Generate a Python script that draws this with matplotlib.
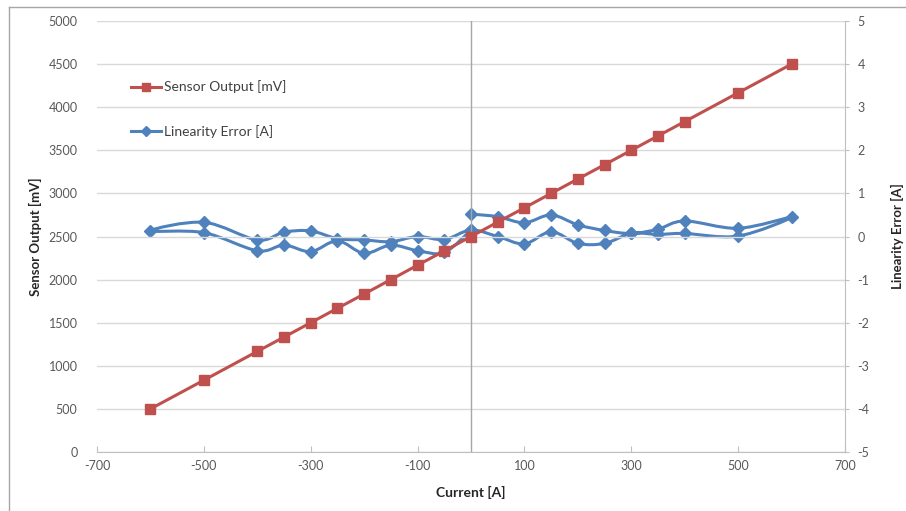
import matplotlib
matplotlib.use("Agg")
import matplotlib.pyplot as plt
from matplotlib.path import Path
from matplotlib.patches import PathPatch
from matplotlib.lines import Line2D
import numpy as np

# Sensor output versus primary current
current_out = [-600, -500, -400, -350, -300, -250, -200, -150, -100, -50, 0,
               50, 100, 150, 200, 250, 300, 350, 400, 500, 600]
sensor_mv = [500, 833, 1167, 1333, 1500, 1667, 1833, 2000, 2167, 2333, 2500,
             2667, 2833, 3000, 3167, 3333, 3500, 3667, 3833, 4167, 4500]

# Linearity error along the sweep 0 -> +600 -> -600 -> 0
current_sweep = [0, 50, 100, 150, 200, 250, 300, 350, 400, 500, 600,
                 500, 400, 350, 300, 250, 200, 150, 100, 50, 0,
                 -50, -100, -150, -200, -250, -300, -350, -400, -500, -600,
                 -500, -400, -350, -300, -250, -200, -150, -100, -50, 0]
error_a = [0.52, 0.46, 0.32, 0.50, 0.27, 0.14, 0.07, 0.17, 0.36, 0.19, 0.45,
           0.01, 0.07, 0.05, 0.07, -0.16, -0.16, 0.11, -0.17, 0.00, 0.15,
           -0.07, 0.00, -0.12, -0.08, -0.05, 0.13, 0.10, -0.08, 0.33, 0.13,
           0.09, -0.33, -0.20, -0.35, -0.10, -0.39, -0.20, -0.33, -0.37, 0.15]

x_ticks = [-700, -500, -300, -100, 100, 300, 500, 700]

RED = "#C0504D"
BLUE = "#4F81BD"
GRID = "#D9D9D9"
TXT = "#595959"
FONT = "Lato"

plt.rcParams["font.family"] = [FONT, "DejaVu Sans"]
plt.rcParams["axes.unicode_minus"] = False


def smooth_path(xs, ys):
    """Cubic Bezier path through the points (Catmull-Rom style control points)."""
    pts = np.column_stack([xs, ys]).astype(float)
    n = len(pts)
    verts = [pts[0]]
    codes = [Path.MOVETO]
    for i in range(n - 1):
        p0 = pts[i - 1] if i > 0 else pts[i]
        p1 = pts[i]
        p2 = pts[i + 1]
        p3 = pts[i + 2] if i + 2 < n else pts[i + 1]
        c1 = p1 + (p2 - p0) / 6.0
        c2 = p2 - (p3 - p1) / 6.0
        verts += [c1, c2, p2]
        codes += [Path.CURVE4] * 3
    return Path(verts, codes)


fig = plt.figure(figsize=(9.06, 5.11), dpi=100)
ax = fig.add_axes([97 / 906, 1 - 452 / 511, (845 - 97) / 906, (452 - 21) / 511])
ax2 = ax.twinx()

# primary axis: sensor output
ax.set_xlim(-700, 700)
ax.set_ylim(0, 5000)
ax.set_yticks(np.arange(0, 5001, 500))
ax.set_xticks(x_ticks)
ax.grid(axis="y", color=GRID, lw=1)
ax.set_axisbelow(True)
ax.axvline(0, color="#A6A6A6", lw=1, zorder=1)
for s in ["top", "left", "right"]:
    ax.spines[s].set_visible(False)
ax.spines["bottom"].set_color("#BFBFBF")
ax.tick_params(axis="x", direction="in", length=4, color="#BFBFBF",
               labelsize=9, labelcolor=TXT, pad=6)
ax.tick_params(axis="y", length=0, labelsize=9, labelcolor=TXT, pad=14)
ax.set_xlabel("Current [A]", fontsize=10, fontweight="bold", color="#262626")
ax.xaxis.set_label_coords(0.5, -0.078)
ax.set_ylabel("Sensor Output [mV]", fontsize=9.5, fontweight="bold", color="#262626")
ax.yaxis.set_label_coords(-0.073, 0.5)

# secondary axis: linearity error
ax2.set_ylim(-5, 5)
ax2.set_yticks(np.arange(-5, 6, 1))
for s in ["top", "left", "bottom"]:
    ax2.spines[s].set_visible(False)
ax2.spines["right"].set_color("#BFBFBF")
ax2.tick_params(axis="y", direction="inout", length=6, color="#BFBFBF",
                labelsize=9, labelcolor=TXT, pad=6)
ax2.set_ylabel("Linearity Error [A]", fontsize=9.5, fontweight="bold", color="#262626")
ax2.yaxis.set_label_coords(1.062, 0.5)

# linearity error: smoothed line with diamond markers
ax2.add_patch(PathPatch(smooth_path(current_sweep, error_a), fill=False,
                        edgecolor=BLUE, lw=2.2, zorder=2))
ax2.plot(current_sweep, error_a, linestyle="none", marker="D", ms=6.5,
         color=BLUE, zorder=3)

# sensor output on top
ax.set_zorder(ax2.get_zorder() + 1)
ax.patch.set_visible(False)
ax.plot(current_out, sensor_mv, color=RED, lw=2.2, marker="s", ms=7.5, zorder=4)

handles = [Line2D([], [], color=RED, lw=2.2, marker="s", ms=6),
           Line2D([], [], color=BLUE, lw=2.2, marker="D", ms=5)]
leg = ax.legend(handles, ["Sensor Output [mV]", "Linearity Error [A]"],
                loc="upper left", bbox_to_anchor=(0.0375, 0.875), frameon=False,
                fontsize=10, handlelength=2.2, handletextpad=0.2,
                labelspacing=2.3, borderaxespad=0)
for t in leg.get_texts():
    t.set_color("#404040")

# chart-area border
fig.add_artist(Line2D([9 / 906, 9 / 906], [0, 1 - 7 / 511],
                      transform=fig.transFigure, color="#A6A6A6", lw=1))
fig.add_artist(Line2D([9 / 906, 1], [1 - 7 / 511, 1 - 7 / 511],
                      transform=fig.transFigure, color="#A6A6A6", lw=1))

fig.savefig("out.png", dpi=100)
